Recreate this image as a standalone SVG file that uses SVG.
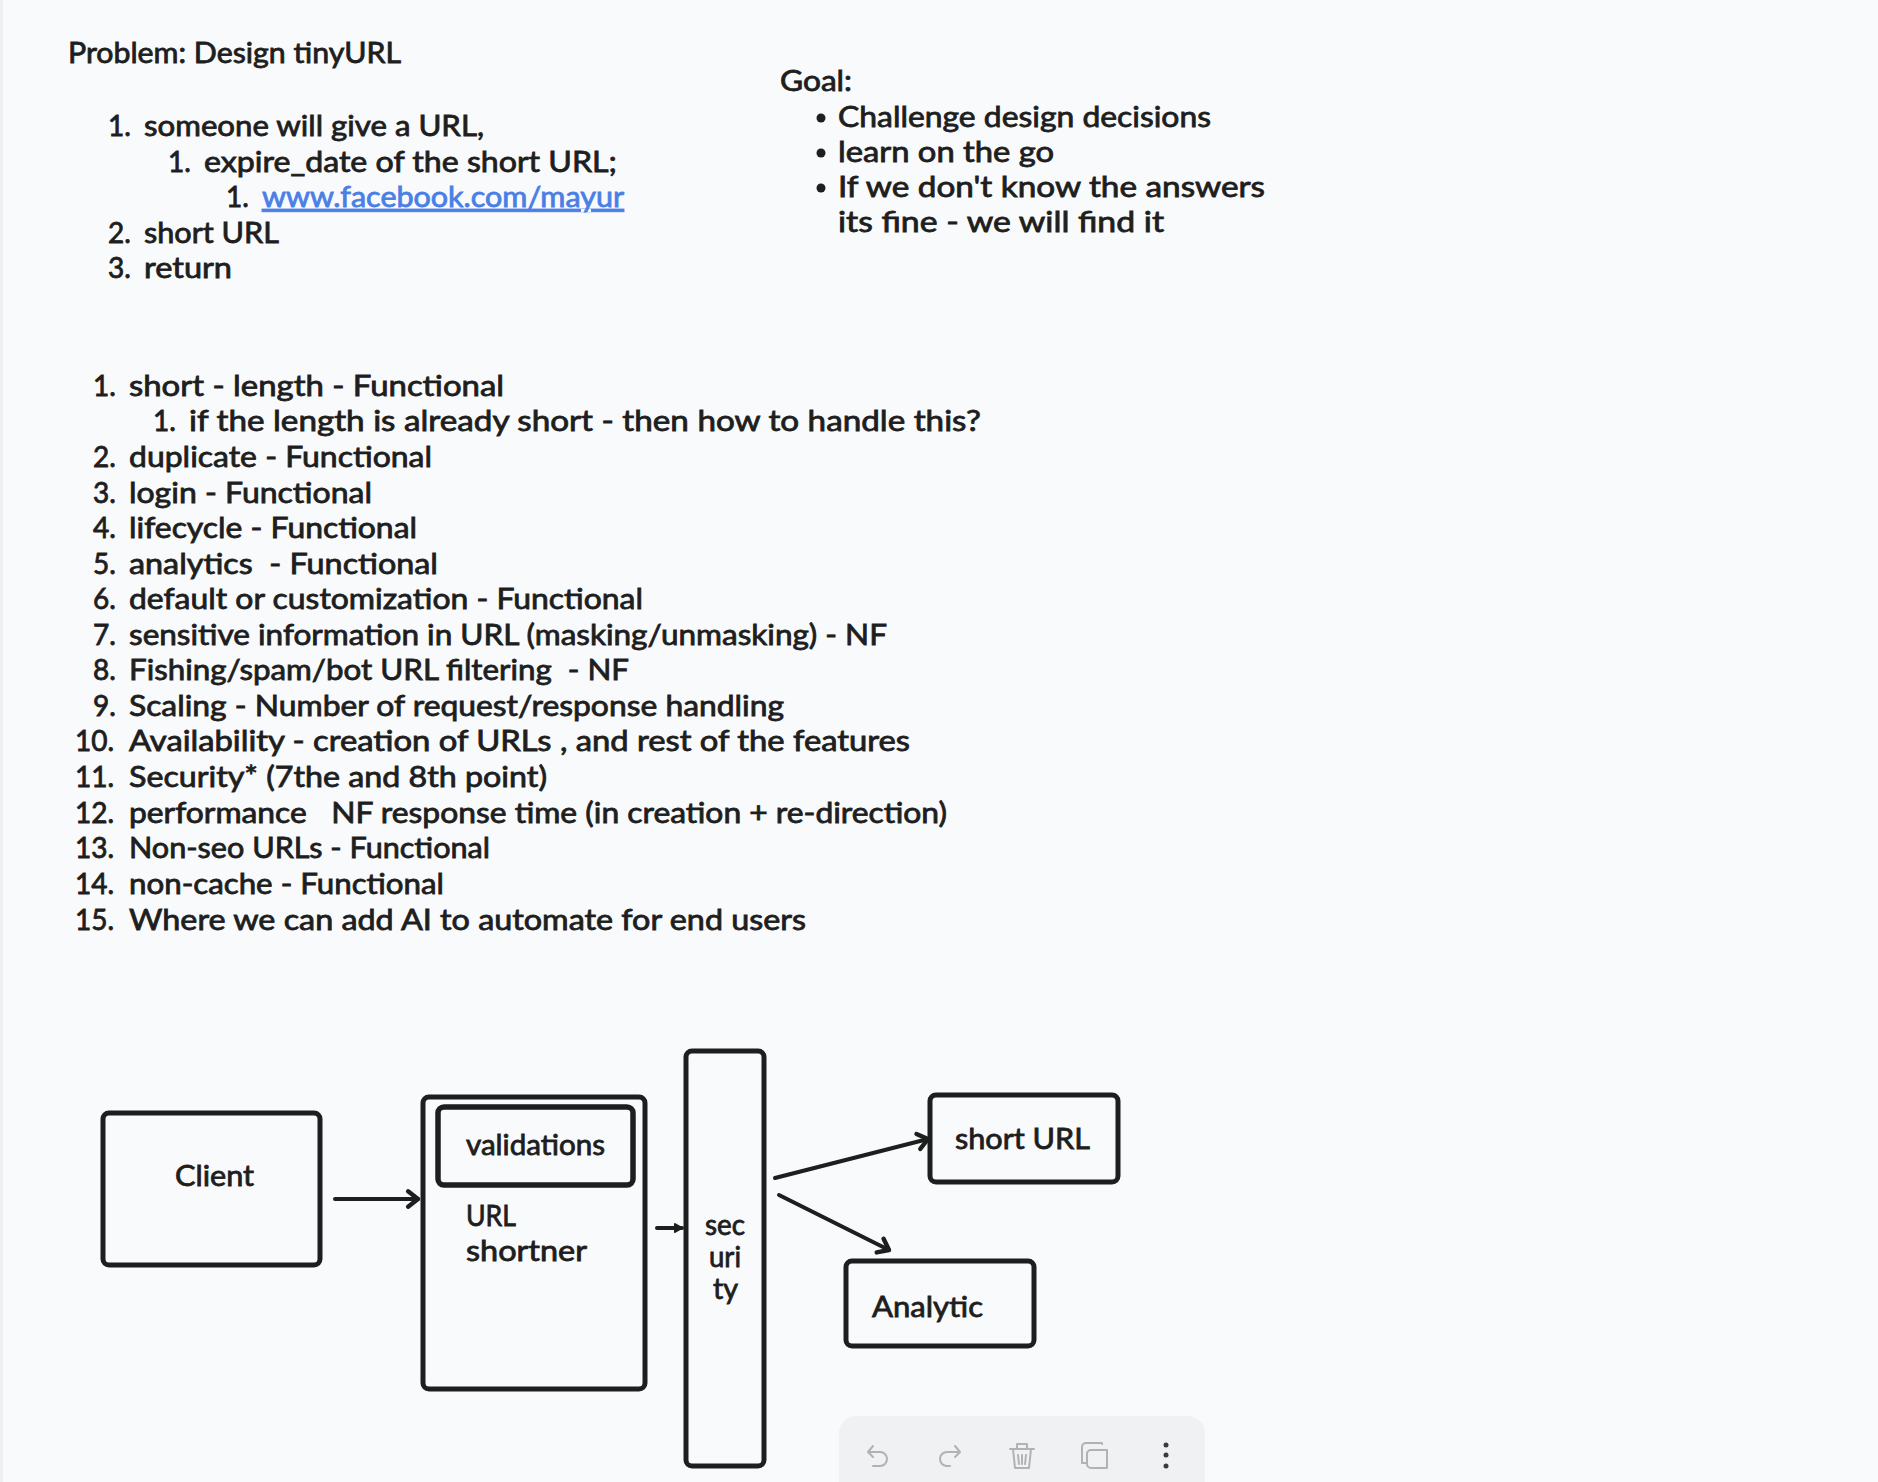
<svg xmlns="http://www.w3.org/2000/svg" width="1878" height="1482" viewBox="0 0 1878 1482">
<defs>
<style>
text{font-family:"Lato","Noto Sans",sans-serif;font-size:28px;fill:#1e1e1e;stroke:#1e1e1e;stroke-width:.8px}
.link{fill:#4a7fe6;stroke:#4a7fe6;text-decoration:underline}
.box{fill:none;stroke:#1e1e1e;stroke-width:5px}
.conn{fill:none;stroke:#1e1e1e;stroke-width:4px;stroke-linecap:round;marker-end:url(#arrow)}
.icon{fill:none;stroke:#b0b2b6;stroke-width:2px;stroke-linecap:round;stroke-linejoin:round}
</style>
<marker id="arrow" markerUnits="userSpaceOnUse" markerWidth="22" markerHeight="22" refX="14" refY="10" orient="auto" viewBox="0 0 20 20"><path d="M5 3 L14 10 L5 17" fill="none" stroke="#1e1e1e" stroke-width="4" stroke-linecap="round" stroke-linejoin="round"/></marker>
<marker id="arrowS" markerUnits="userSpaceOnUse" markerWidth="12" markerHeight="12" refX="9" refY="6" orient="auto" viewBox="0 0 12 12"><path d="M2 2 L9 6 L2 10 Z" fill="#1e1e1e" stroke="#1e1e1e" stroke-width="2" stroke-linejoin="round"/></marker>
</defs>
<rect width="1878" height="1482" fill="#f9fafc"/>
<rect width="3" height="1482" fill="#eff0f3"/>

<g id="problem-notes">
<text x="68" y="63" textLength="333" lengthAdjust="spacingAndGlyphs">Problem: Design tinyURL</text>
<text x="108" y="136">1.</text><text x="144" y="136" textLength="340" lengthAdjust="spacingAndGlyphs">someone will give a URL,</text>
<text x="168" y="172">1.</text><text x="204" y="172" textLength="413" lengthAdjust="spacingAndGlyphs">expire_date of the short URL;</text>
<text x="226" y="207">1.</text><text class="link" x="262" y="207" textLength="362" lengthAdjust="spacingAndGlyphs">www.facebook.com/mayur</text>
<text x="108" y="243">2.</text><text x="144" y="243" textLength="135" lengthAdjust="spacingAndGlyphs">short URL</text>
<text x="108" y="278">3.</text><text x="144" y="278" textLength="88" lengthAdjust="spacingAndGlyphs">return</text>
</g>

<g id="goal-notes">
<text x="780" y="91" textLength="72" lengthAdjust="spacingAndGlyphs">Goal:</text>
<circle cx="821" cy="118" r="4.5" fill="#1e1e1e"/><text x="838" y="127" textLength="373" lengthAdjust="spacingAndGlyphs">Challenge design decisions</text>
<circle cx="821" cy="153" r="4.5" fill="#1e1e1e"/><text x="838" y="162" textLength="216" lengthAdjust="spacingAndGlyphs">learn on the go</text>
<circle cx="821" cy="188" r="4.5" fill="#1e1e1e"/><text x="838" y="197" textLength="427" lengthAdjust="spacingAndGlyphs">If we don't know the answers</text>
<text x="838" y="232" textLength="326" lengthAdjust="spacingAndGlyphs">its fine - we will find it</text>
</g>

<g id="requirements-notes">
<text x="93" y="396">1.</text><text x="129" y="396" textLength="375" lengthAdjust="spacingAndGlyphs">short - length - Functional</text>
<text x="153" y="431">1.</text><text x="189" y="431" textLength="792" lengthAdjust="spacingAndGlyphs">if the length is already short - then how to handle this?</text>
<text x="93" y="467">2.</text><text x="129" y="467" textLength="303" lengthAdjust="spacingAndGlyphs">duplicate - Functional</text>
<text x="93" y="503">3.</text><text x="129" y="503" textLength="243" lengthAdjust="spacingAndGlyphs">login - Functional</text>
<text x="93" y="538">4.</text><text x="129" y="538" textLength="288" lengthAdjust="spacingAndGlyphs">lifecycle - Functional</text>
<text x="93" y="574">5.</text><text x="129" y="574" textLength="309" lengthAdjust="spacingAndGlyphs" xml:space="preserve">analytics  - Functional</text>
<text x="93" y="609">6.</text><text x="129" y="609" textLength="514" lengthAdjust="spacingAndGlyphs">default or customization - Functional</text>
<text x="93" y="645">7.</text><text x="129" y="645" textLength="758" lengthAdjust="spacingAndGlyphs">sensitive information in URL (masking/unmasking) - NF</text>
<text x="93" y="680">8.</text><text x="129" y="680" textLength="500" lengthAdjust="spacingAndGlyphs" xml:space="preserve">Fishing/spam/bot URL filtering  - NF</text>
<text x="93" y="716">9.</text><text x="129" y="716" textLength="655" lengthAdjust="spacingAndGlyphs">Scaling - Number of request/response handling</text>
<text x="75" y="751">10.</text><text x="129" y="751" textLength="781" lengthAdjust="spacingAndGlyphs">Availability - creation of URLs , and rest of the features</text>
<text x="75" y="787">11.</text><text x="129" y="787" textLength="418" lengthAdjust="spacingAndGlyphs">Security* (7the and 8th point)</text>
<text x="75" y="823">12.</text><text x="129" y="823" textLength="818" lengthAdjust="spacingAndGlyphs" xml:space="preserve">performance   NF response time (in creation + re-direction)</text>
<text x="75" y="858">13.</text><text x="129" y="858" textLength="361" lengthAdjust="spacingAndGlyphs">Non-seo URLs - Functional</text>
<text x="75" y="894">14.</text><text x="129" y="894" textLength="315" lengthAdjust="spacingAndGlyphs">non-cache - Functional</text>
<text x="75" y="930">15.</text><text x="129" y="930" textLength="677" lengthAdjust="spacingAndGlyphs">Where we can add AI to automate for end users</text>
</g>

<g id="client">
<rect class="box" x="103" y="1113" width="217" height="152" rx="6"/>
<text x="175" y="1186" textLength="79" lengthAdjust="spacingAndGlyphs">Client</text>
</g>
<g id="url-shortner">
<rect class="box" x="423" y="1097" width="222" height="292" rx="6"/>
<text x="466" y="1226" textLength="50" lengthAdjust="spacingAndGlyphs">URL</text>
<text x="466" y="1261" textLength="121" lengthAdjust="spacingAndGlyphs">shortner</text>
</g>
<g id="validations">
<rect class="box" x="438" y="1107" width="195" height="78" rx="6" style="stroke-width:5.5px"/>
<text x="466" y="1155" textLength="139" lengthAdjust="spacingAndGlyphs">validations</text>
</g>
<g id="security">
<rect class="box" x="686" y="1051" width="78" height="415" rx="6"/>
<text x="705" y="1235" textLength="40" lengthAdjust="spacingAndGlyphs">sec</text>
<text x="709" y="1267" textLength="32" lengthAdjust="spacingAndGlyphs">uri</text>
<text x="713" y="1299" textLength="25" lengthAdjust="spacingAndGlyphs">ty</text>
</g>
<g id="short-url">
<rect class="box" x="930" y="1095" width="188" height="87" rx="6"/>
<text x="955" y="1149" textLength="135" lengthAdjust="spacingAndGlyphs">short URL</text>
</g>
<g id="analytic">
<rect class="box" x="846" y="1261" width="188" height="85" rx="6"/>
<text x="872" y="1317" textLength="111" lengthAdjust="spacingAndGlyphs">Analytic</text>
</g>

<g id="connectors">
<path class="conn" d="M335 1199 L418 1199"/>
<path class="conn" d="M657 1228 L682 1228" style="marker-end:url(#arrowS)"/>
<path class="conn" d="M775 1178 L928 1139"/>
<path class="conn" d="M779 1195 L889 1250"/>
</g>

<g id="toolbar">
<path d="M839 1482 V1433 a17 17 0 0 1 17 -17 H1188 a17 17 0 0 1 17 17 V1482 Z" fill="#f0f1f3"/>
<path class="icon" d="M873 1446 L868 1452 L873 1457 M868 1452 H880 a7 7 0 0 1 0 14 H873"/>
<path class="icon" d="M955 1446 L960 1452 L955 1457 M960 1452 H947 a7 7 0 0 0 0 14 H950"/>
<path class="icon" d="M1010 1449 H1034 M1017 1449 V1444 H1027 V1449 M1013 1449 L1015 1468 H1029 L1031 1449 M1018 1455 L1019 1464 M1022 1455 V1464 M1026 1455 L1025 1464"/>
<path class="icon" d="M1102 1444 V1443 H1086 a4 4 0 0 0 -4 4 V1463 H1087 M1091 1450 H1107 V1468 H1091 a4 4 0 0 1 -4 -4 V1454 a4 4 0 0 1 4 -4 Z"/>
<circle cx="1166" cy="1445" r="2.500" fill="#3a3b3e"/><circle cx="1166" cy="1455" r="2.500" fill="#3a3b3e"/><circle cx="1166" cy="1466" r="2.500" fill="#3a3b3e"/>
</g>
</svg>
